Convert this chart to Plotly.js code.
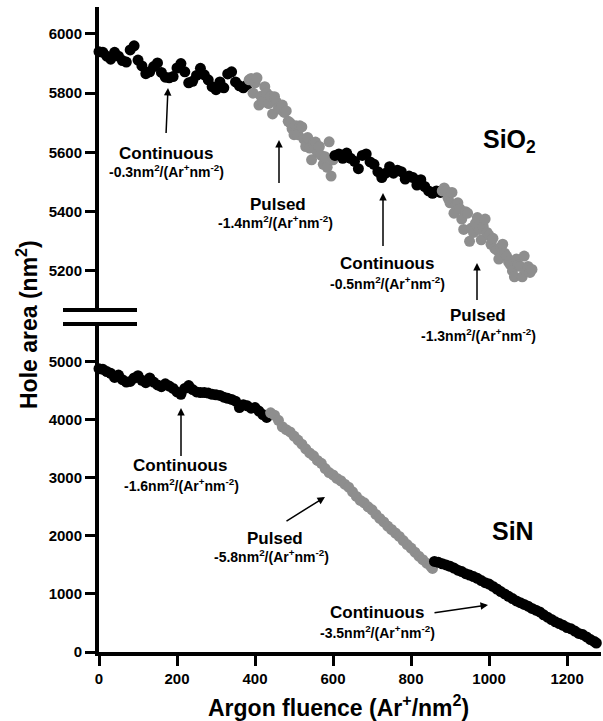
<!DOCTYPE html>
<html>
<head>
<meta charset="utf-8">
<script src="https://cdn.plot.ly/plotly-3.0.1.min.js"></script>
<style>html,body{margin:0;padding:0;background:#fff;}#chart{width:603px;height:721px;}</style>
</head>
<body>
<div id="chart"></div>
<script>
// ---------- DATA ----------
const xTicks = [0, 200, 400, 600, 800, 1000, 1200];
const yTicksSiN = [0, 1000, 2000, 3000, 4000, 5000];
const yTicksSiO2 = [5200, 5400, 5600, 5800, 6000];

// SiO2 - continuous (1)
const sio2Cont1X = [0,10,20,30,40,50,60,70,80,90,100,110,120,130,140,150,160,170,180,190,200,210,220,230,240,250,260,270,280,290,300,310,320,330,340,350,360,370,380];
const sio2Cont1Y = [5940,5938,5925,5915,5938,5925,5910,5905,5946,5960,5912,5892,5866,5872,5890,5902,5870,5854,5852,5856,5885,5900,5872,5835,5840,5860,5884,5862,5845,5822,5812,5838,5818,5865,5872,5838,5825,5818,5828];
// SiO2 - pulsed (1)
const sio2Puls1X = [385,390,395,400,405,410,415,420,425,430,435,440,445,450,455,460,465,470,475,480,485,490,495,500,505,510,515,520,525,530,535,540,545,550,555,560,565,570,575,580,585,590,595,600];
const sio2Puls1Y = [5845,5850,5800,5835,5852,5760,5790,5770,5822,5800,5765,5790,5730,5788,5770,5750,5745,5760,5735,5740,5705,5700,5680,5660,5690,5660,5690,5686,5645,5620,5650,5615,5575,5630,5635,5600,5620,5590,5560,5585,5550,5636,5520,5575];
// SiO2 - continuous (2)
const sio2Cont2X = [605,615,625,635,645,655,665,675,685,695,705,715,725,735,745,755,765,775,785,795,805,815,825,835,845,855,865,875];
const sio2Cont2Y = [5590,5595,5580,5598,5580,5570,5545,5590,5595,5568,5560,5535,5515,5530,5552,5530,5540,5535,5510,5520,5515,5490,5508,5485,5470,5462,5470,5465];
// SiO2 - pulsed (2)
const sio2Puls2X = [880,885,890,895,900,905,910,915,920,925,930,935,940,945,950,955,960,965,970,975,980,985,990,995,1000,1005,1010,1015,1020,1025,1030,1035,1040,1045,1050,1055,1060,1065,1070,1075,1080,1085,1090,1095,1100,1105,1110];
const sio2Puls2Y = [5470,5480,5470,5445,5430,5465,5395,5420,5430,5410,5375,5340,5400,5395,5300,5345,5330,5360,5380,5340,5305,5350,5375,5330,5320,5290,5310,5275,5270,5240,5280,5290,5260,5250,5230,5220,5200,5180,5240,5220,5215,5180,5250,5200,5215,5195,5205];

// SiN - continuous (1)
const sinCont1X = [0,10,20,30,40,50,60,70,80,90,100,110,120,130,140,150,160,170,180,190,200,210,220,230,240,250,260,270,280,290,300,310,320,330,340,350,360,370,380,390,400,410,420,430];
const sinCont1Y = [4880,4870,4830,4800,4730,4770,4690,4650,4660,4720,4760,4680,4640,4720,4650,4600,4570,4620,4580,4540,4480,4440,4540,4590,4520,4480,4470,4470,4460,4440,4430,4420,4390,4370,4350,4320,4210,4260,4240,4200,4210,4150,4090,4040];
// SiN - pulsed
const sinPulsX = [440,450,460,470,480,490,500,510,520,530,540,550,560,570,580,590,600,610,620,630,640,650,660,670,680,690,700,710,720,730,740,750,760,770,780,790,800,810,820,830,840,850,855];
const sinPulsY = [4120,4080,3990,3880,3830,3790,3720,3650,3580,3500,3430,3380,3300,3250,3160,3090,3050,2990,2950,2890,2840,2760,2680,2610,2570,2500,2450,2370,2300,2240,2170,2110,2050,1990,1920,1850,1790,1720,1650,1590,1530,1480,1440];
// SiN - continuous (2)
const sinCont2X = [860,870,880,890,900,910,920,930,940,950,960,970,980,990,1000,1010,1020,1030,1040,1050,1060,1070,1080,1090,1100,1110,1120,1130,1140,1150,1160,1170,1180,1190,1200,1210,1220,1230,1240,1250,1260,1270,1275];
const sinCont2Y = [1560,1545,1520,1500,1475,1445,1410,1385,1350,1325,1300,1270,1230,1195,1170,1130,1085,1040,1000,960,920,880,850,820,790,750,720,690,640,600,560,520,490,460,420,400,360,320,300,260,215,180,155];

// ---------- STYLE ----------
const FONT = "'Liberation Sans', Arial, Helvetica, sans-serif";
const BLACK = '#000000';
const GREY = '#8e8e8e';
const MS = 11;

function seg(x, y, color, yaxis) {
  return {x: x, y: y, type: 'scatter', mode: 'markers', yaxis: yaxis, xaxis: 'x',
          cliponaxis: false, hoverinfo: 'skip',
          marker: {size: MS, color: color, line: {width: 0}}};
}

const traces = [
  seg(sio2Cont1X, sio2Cont1Y, BLACK, 'y2'),
  seg(sio2Puls1X, sio2Puls1Y, GREY, 'y2'),
  seg(sio2Cont2X, sio2Cont2Y, BLACK, 'y2'),
  seg(sio2Puls2X, sio2Puls2Y, GREY, 'y2'),
  seg(sinCont1X, sinCont1Y, BLACK, 'y'),
  seg(sinPulsX, sinPulsY, GREY, 'y'),
  seg(sinCont2X, sinCont2Y, BLACK, 'y')
];

// pixel -> paper helpers (plot area: x 99..601, y 7..652)
const L = 99, R = 601, T = 7, B = 652;
const PX = x => (x - L) / (R - L);
const PY = y => (B - y) / (B - T);

function txt(x, y, text, size, extra) {
  return Object.assign({xref: 'paper', yref: 'paper', x: PX(x), y: PY(y), text: text,
    showarrow: false, xanchor: 'center', yanchor: 'middle',
    font: {family: FONT, size: size, color: BLACK, weight: 'bold'}}, extra || {});
}
function arr(hx, hy, tx, ty) {
  return {xref: 'paper', yref: 'paper', x: PX(hx), y: PY(hy), ax: tx - hx, ay: ty - hy,
    text: ' ', showarrow: true, arrowhead: 2, arrowsize: 1, arrowwidth: 1.5,
    arrowcolor: BLACK, standoff: 0, startstandoff: 0, font: {size: 1}};
}
const rate = v => v + 'nm<sup>2</sup>/(Ar<sup>+</sup>nm<sup>-2</sup>)';

const annotations = [
  // SiO2
  txt(166, 153, 'Continuous', 17), txt(166, 171, rate('-0.3'), 14), arr(168, 88, 166, 135),
  txt(278, 204, 'Pulsed', 17), txt(275, 222, rate('-1.4'), 14), arr(279, 140, 279, 185),
  txt(387, 263, 'Continuous', 17), txt(387, 283, rate('-0.5'), 14), arr(383, 193, 383, 248),
  txt(478, 315, 'Pulsed', 17), txt(478, 335, rate('-1.3'), 14), arr(477, 263, 477, 302),
  txt(509, 141, 'SiO<sub>2</sub>', 25),
  // SiN
  txt(180, 465, 'Continuous', 17), txt(181, 485, rate('-1.6'), 14), arr(181, 408, 181, 458),
  txt(275, 538, 'Pulsed', 17), txt(271, 556, rate('-5.8'), 14), arr(325, 497, 285, 522),
  txt(377, 612, 'Continuous', 17), txt(377, 632, rate('-3.5'), 14), arr(488, 605, 433, 613),
  txt(513, 531, 'SiN', 25),
  // axis titles
  txt(27, 325, 'Hole area (nm<sup>2</sup>)', 23, {textangle: -90}),
  txt(338, 706, 'Argon fluence (Ar<sup>+</sup>/nm<sup>2</sup>)', 23)
];

const axisCommon = {
  showline: true, linewidth: 4, linecolor: BLACK, mirror: false,
  ticks: 'outside', ticklen: 10, tickwidth: 3, tickcolor: BLACK,
  showgrid: false, zeroline: false, fixedrange: true,
  tickfont: {family: FONT, size: 15, color: BLACK, weight: 'bold'}
};

const layout = {
  width: 603, height: 721,
  margin: {l: L, r: 603 - R, t: T, b: 721 - B, pad: 0},
  paper_bgcolor: '#ffffff', plot_bgcolor: 'rgba(0,0,0,0)',
  showlegend: false, hovermode: false,
  xaxis: Object.assign({}, axisCommon, {range: [0, 1287], tickvals: xTicks, ticktext: xTicks.map(String), anchor: 'y', domain: [0, 1]}),
  yaxis: Object.assign({}, axisCommon, {range: [0, 5650], tickvals: yTicksSiN, ticktext: yTicksSiN.map(String), domain: [0, PY(324)], anchor: 'x'}),
  yaxis2: Object.assign({}, axisCommon, {range: [5068, 6091], tickvals: yTicksSiO2, ticktext: yTicksSiO2.map(String), domain: [PY(310), 1], anchor: 'x'}),
  shapes: [
    {type: 'line', xref: 'paper', yref: 'paper', x0: PX(63), x1: PX(137), y0: PY(310), y1: PY(310), line: {color: BLACK, width: 4}},
    {type: 'line', xref: 'paper', yref: 'paper', x0: PX(63), x1: PX(137), y0: PY(324), y1: PY(324), line: {color: BLACK, width: 4}}
  ],
  annotations: annotations
};

Plotly.newPlot('chart', traces, layout, {displayModeBar: false, staticPlot: true});
</script>
</body>
</html>
